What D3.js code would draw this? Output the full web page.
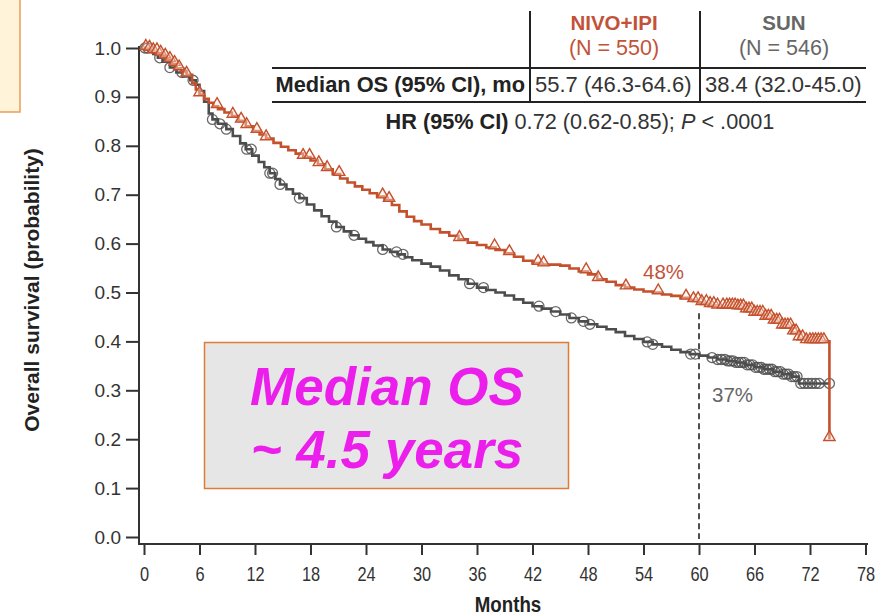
<!DOCTYPE html>
<html>
<head>
<meta charset="utf-8">
<script src="https://cdn.jsdelivr.net/npm/d3@7"></script>
<style>
  html, body { margin: 0; padding: 0; background: #ffffff; }
  svg { display: block; font-family: "Liberation Sans", Arial, sans-serif; }
</style>
</head>
<body>
<svg id="chart" width="881" height="616"></svg>
<script>
// Kaplan-Meier step points: [month, survival probability]
const nivoCurve = [
  [0,1.000],[0.5,0.998],[1,0.993],[1.5,0.988],[2,0.982],[2.5,0.975],[3,0.967],[3.5,0.958],
  [4,0.952],[4.6,0.945],[5.2,0.928],[5.6,0.915],[6.0,0.905],[6.5,0.896],[7.0,0.888],[7.5,0.881],
  [8.0,0.875],[8.7,0.868],[9.5,0.861],[10.2,0.851],[11.0,0.840],[11.8,0.830],[12.5,0.823],
  [13.2,0.815],[14.0,0.806],[14.8,0.798],[15.6,0.791],[16.4,0.784],[17.2,0.777],[18.0,0.770],
  [18.8,0.762],[19.6,0.752],[20.4,0.742],[21.2,0.733],[22.0,0.725],[22.8,0.717],[23.6,0.710],
  [24.4,0.703],[25.2,0.696],[26.0,0.689],[26.8,0.679],[27.6,0.666],[28.4,0.655],[29.2,0.646],
  [30,0.639],[31,0.630],[32,0.623],[33,0.616],[34,0.609],[35,0.602],[36,0.597],[37,0.592],
  [38,0.587],[39,0.580],[40,0.573],[41,0.565],[42,0.560],[43,0.557],[44,0.557],[45,0.555],
  [46,0.549],[47,0.543],[48,0.537],[49,0.527],[50,0.522],[51,0.515],[52,0.510],[53,0.506],
  [54,0.502],[55,0.500],[56,0.496],[57,0.493],[58,0.489],[59,0.484],[60,0.478],[61,0.474],
  [62,0.471],[63,0.471],[64,0.469],[65,0.463],[66,0.456],[67,0.448],[68,0.440],[69,0.430],
  [70,0.418],[70.8,0.406],[71.5,0.400],[74.1,0.200]
];
const sunCurve = [
  [0,1.000],[0.5,0.995],[1,0.988],[1.5,0.980],[2,0.972],[2.8,0.960],[3.5,0.950],[4.2,0.942],
  [5.0,0.934],[5.6,0.925],[6.0,0.912],[6.5,0.890],[7.0,0.866],[7.4,0.854],[8.0,0.845],
  [8.9,0.834],[9.6,0.820],[10.4,0.805],[11.0,0.793],[11.7,0.780],[12.4,0.767],[13.0,0.756],
  [13.6,0.744],[14.2,0.732],[14.7,0.721],[15.4,0.711],[16.1,0.702],[16.8,0.693],[17.6,0.680],
  [18.4,0.668],[19.2,0.656],[20.0,0.645],[20.8,0.634],[21.6,0.625],[22.4,0.617],[23.2,0.610],
  [24.0,0.603],[24.8,0.596],[25.8,0.588],[26.6,0.583],[27.4,0.578],[28.2,0.572],[29.0,0.566],
  [30,0.559],[31,0.553],[32,0.545],[33,0.535],[34,0.527],[35,0.518],[36,0.510],[37,0.505],
  [38,0.500],[39,0.494],[40,0.486],[41,0.479],[42,0.472],[43,0.467],[44,0.461],[45,0.455],
  [46,0.448],[47,0.441],[48,0.435],[49,0.430],[50,0.425],[51,0.419],[52,0.411],[53,0.405],
  [54,0.399],[55,0.394],[56,0.389],[57,0.383],[58,0.378],[59,0.374],[60,0.371],[61,0.367],
  [62,0.363],[63,0.360],[64,0.357],[65,0.352],[66,0.347],[67,0.343],[68,0.338],[69,0.333],
  [70,0.328],[70.8,0.314],[74.1,0.314]
];

// Censoring times (months)
const nivoCensor = [
  0.2,0.6,1.0,1.4,1.8,2.3,2.8,3.3,3.8,4.6,6.0,7.9,9.6,10.5,11.1,12.2,13.2,17.2,17.9,18.9,
  19.8,21.1,25.8,26.5,34.1,37.9,39.5,42.6,43.2,47.8,49.1,52.1,55.6,58.6,
  59.4,59.9,60.3,60.8,61.2,61.6,62.0,62.6,63.0,63.3,63.6,63.9,64.2,64.5,64.8,65.1,65.4,65.7,
  66.0,66.3,66.6,66.9,67.2,67.5,67.8,68.1,68.4,68.7,69.0,69.3,69.6,69.9,70.2,70.5,70.8,71.2,
  71.6,72.0,72.3,72.6,72.9,73.2,73.5,74.1
];
const sunCensor = [
  0.1,0.4,1.7,2.8,4.1,5.3,7.4,8.2,8.9,11.1,11.6,13.6,13.9,14.7,16.8,20.8,22.7,25.8,27.3,28.0,
  35.2,36.7,42.7,44.5,46.2,47.5,48.2,54.4,55.0,59.1,59.6,
  61.4,62.0,62.4,62.8,63.1,63.4,63.7,64.0,64.3,64.6,64.9,65.2,65.5,65.8,66.1,66.4,66.7,67.0,
  67.3,67.6,67.9,68.2,68.5,68.8,69.1,69.4,69.7,70.0,70.3,70.6,71.0,71.4,71.8,72.2,72.6,73.0,74.1
];

const xTicks = [0,6,12,18,24,30,36,42,48,54,60,66,72,78];
const yTicks = [0,0.1,0.2,0.3,0.4,0.5,0.6,0.7,0.8,0.9,1.0];
const yTickLabels = ["0.0","0.1","0.2","0.3","0.4","0.5","0.6","0.7","0.8","0.9","1.0"];

const landmarkMonth = 60;
const landmarkLabels = [
  { text: "48%", series: "nivo" },
  { text: "37%", series: "sun" }
];

const tableHeader = [
  { line1: "NIVO+IPI", line2: "(N = 550)", series: "nivo" },
  { line1: "SUN", line2: "(N = 546)", series: "sun" }
];
const tableRowLabel = "Median OS (95% CI), mo";
const tableRowValues = ["55.7 (46.3-64.6)", "38.4 (32.0-45.0)"];
const hrParts = [
  { t: "HR (95% CI)", w: "bold", s: "normal" },
  { t: " 0.72 (0.62-0.85); ", w: "normal", s: "normal" },
  { t: "P", w: "normal", s: "italic" },
  { t: " < .0001", w: "normal", s: "normal" }
];
const calloutLines = ["Median OS", "~ 4.5 years"];

const colors = { nivo: "#c4502c", sun: "#4d4d4d", nivoText: "#c25338", sunText: "#666666" };

const svg = d3.select("#chart");

const x = d3.scaleLinear().domain([0, 78]).range([144, 865.5]);
const y = d3.scaleLinear().domain([0, 1]).range([537, 48]);

// survival value in effect at month t (step function lookup)
function survAt(curve, t) {
  let v = curve[0][1];
  for (const [m, s] of curve) { if (m <= t) v = s; else break; }
  return v;
}

// small highlight box in the top-left corner
svg.append("rect").attr("x", -2).attr("y", -2).attr("width", 22).attr("height", 114)
  .attr("fill", "#fff3da").attr("stroke", "#ee9c55").attr("stroke-width", 1.5);

// ---- Axes ----
const yAxis = svg.append("g").attr("transform", "translate(139,0)")
  .call(d3.axisLeft(y).tickValues(yTicks).tickFormat((d, i) => yTickLabels[i]).tickSize(13).tickPadding(5));
yAxis.select(".domain").remove();
yAxis.selectAll(".tick line").attr("stroke", "#333").attr("stroke-width", 2);
yAxis.selectAll(".tick text").attr("font-size", 19).attr("fill", "#333")
  .attr("font-family", "Liberation Sans, Arial, sans-serif");
svg.append("line").attr("x1", 139).attr("x2", 139).attr("y1", y(1) - 2).attr("y2", 545)
  .attr("stroke", "#333").attr("stroke-width", 2);

const xAxis = svg.append("g").attr("transform", "translate(0,544)")
  .call(d3.axisBottom(x).tickValues(xTicks).tickSize(11).tickPadding(0));
xAxis.select(".domain").remove();
xAxis.selectAll(".tick line").attr("stroke", "#333").attr("stroke-width", 2);
xAxis.selectAll(".tick text").attr("font-size", 21).attr("fill", "#333")
  .attr("font-family", "Liberation Sans, Arial, sans-serif")
  .attr("y", 37).attr("dy", 0).attr("transform", "scale(0.78,1)");
svg.append("line").attr("x1", 138).attr("x2", 868).attr("y1", 544).attr("y2", 544)
  .attr("stroke", "#333").attr("stroke-width", 2);

svg.append("text").attr("transform", "translate(508,612) scale(0.85,1)")
  .attr("text-anchor", "middle").attr("font-size", 22).attr("font-weight", "bold")
  .attr("fill", "#222").text("Months");
svg.append("text").attr("transform", "translate(39,290) rotate(-90)")
  .attr("text-anchor", "middle").attr("font-size", 21).attr("font-weight", "bold")
  .attr("fill", "#222").text("Overall survival (probability)");

// ---- Landmark at 60 months ----
svg.append("line").attr("x1", x(landmarkMonth)).attr("x2", x(landmarkMonth))
  .attr("y1", y(survAt(nivoCurve, landmarkMonth)) + 10).attr("y2", y(0) + 2)
  .attr("stroke", "#222").attr("stroke-width", 1.6).attr("stroke-dasharray", "6,4");

// ---- Survival curves ----
const line = d3.line().x(d => x(d[0])).y(d => y(d[1])).curve(d3.curveStepAfter);

svg.append("path").datum(sunCurve).attr("d", line).attr("fill", "none")
  .attr("stroke", colors.sun).attr("stroke-width", 2.6);
svg.append("g").selectAll("circle").data(sunCensor).join("circle")
  .attr("cx", d => x(d)).attr("cy", d => y(survAt(sunCurve, d))).attr("r", 5)
  .attr("fill", "none").attr("stroke", colors.sun).attr("stroke-width", 1.3).attr("opacity", 0.85);

svg.append("path").datum(nivoCurve).attr("d", line).attr("fill", "none")
  .attr("stroke", colors.nivo).attr("stroke-width", 2.6);
const tri = d3.symbol().type(d3.symbolTriangle).size(55);
svg.append("g").selectAll("path").data(nivoCensor).join("path")
  .attr("d", tri)
  .attr("transform", d => `translate(${x(d)},${y(survAt(nivoCurve, d)) - 2})`)
  .attr("fill", "rgba(255,235,225,0.4)").attr("stroke", colors.nivo).attr("stroke-width", 1.4);

// landmark percentages
svg.append("text").attr("x", 643).attr("y", 279).attr("font-size", 20.5)
  .attr("fill", colors.nivoText).text(landmarkLabels[0].text);
svg.append("text").attr("x", 712).attr("y", 402).attr("font-size", 20.5)
  .attr("fill", colors.sunText).text(landmarkLabels[1].text);

// ---- Results table ----
const tbl = svg.append("g");
const colCenters = [614, 784];
tableHeader.forEach((h, i) => {
  const c = h.series === "nivo" ? colors.nivoText : colors.sunText;
  tbl.append("text").attr("x", colCenters[i]).attr("y", 30).attr("text-anchor", "middle")
    .attr("font-size", 20.5).attr("font-weight", "bold").attr("fill", c).text(h.line1);
  tbl.append("text").attr("x", colCenters[i]).attr("y", 55).attr("text-anchor", "middle")
    .attr("font-size", 21.5).attr("fill", c).text(h.line2);
});
[68, 102].forEach(yy => tbl.append("line").attr("x1", 272).attr("x2", 866)
  .attr("y1", yy).attr("y2", yy).attr("stroke", "#222").attr("stroke-width", 2));
[530, 700].forEach(xx => tbl.append("line").attr("x1", xx).attr("x2", xx)
  .attr("y1", 11).attr("y2", 102).attr("stroke", "#222").attr("stroke-width", 2));
tbl.append("text").attr("x", 525).attr("y", 92).attr("text-anchor", "end")
  .attr("font-size", 21.8).attr("font-weight", "bold").attr("fill", "#222").text(tableRowLabel);
tbl.append("text").attr("x", 535).attr("y", 92).attr("font-size", 22).attr("fill", "#333")
  .text(tableRowValues[0]);
tbl.append("text").attr("x", 705).attr("y", 92).attr("font-size", 22).attr("fill", "#333")
  .text(tableRowValues[1]);
const hr = tbl.append("text").attr("x", 580).attr("y", 129).attr("text-anchor", "middle")
  .attr("font-size", 21.7).attr("fill", "#333");
hrParts.forEach(p => hr.append("tspan").attr("font-weight", p.w).attr("font-style", p.s)
  .attr("fill", p.w === "bold" ? "#222" : "#333").text(p.t));

// ---- Callout box ----
svg.append("rect").attr("x", 204.5).attr("y", 342.5).attr("width", 364).attr("height", 146)
  .attr("fill", "#e6e6e6").attr("stroke", "#e07a34").attr("stroke-width", 1.5);
calloutLines.forEach((t, i) => {
  svg.append("text").attr("x", 387).attr("y", 405 + i * 63).attr("text-anchor", "middle")
    .attr("font-size", 53).attr("font-weight", "bold").attr("font-style", "italic")
    .attr("fill", "#ec1eec").text(t);
});
</script>
</body>
</html>
